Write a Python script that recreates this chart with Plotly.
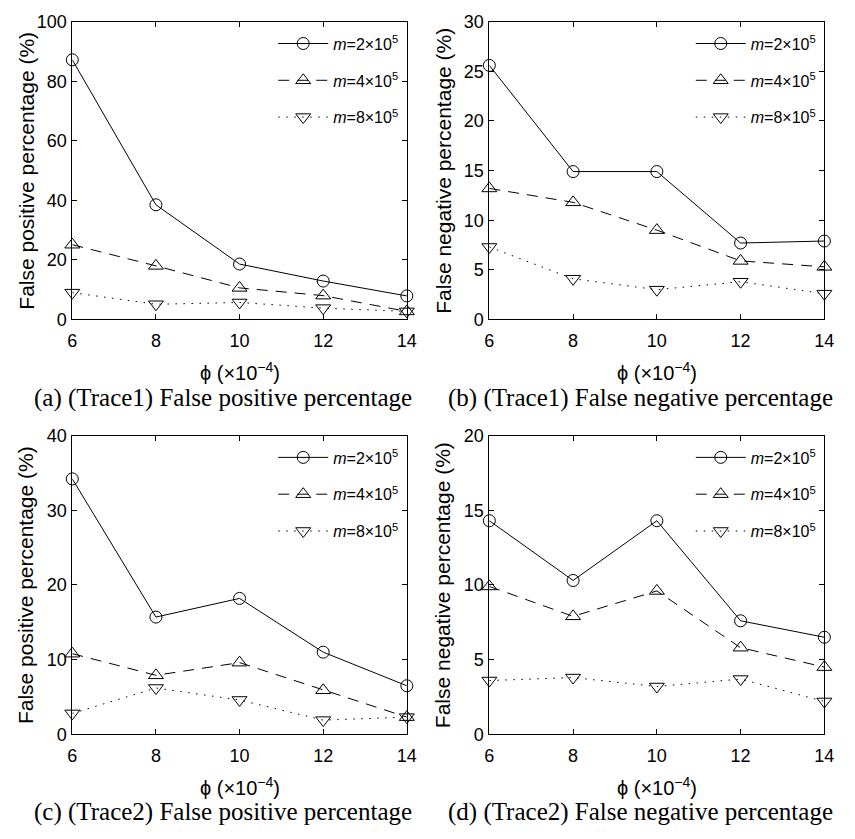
import plotly.graph_objects as go

# phi values (x 10^-4) shared by every panel
phi = [6, 8, 10, 12, 14]
x_ticks = [6, 8, 10, 12, 14]

# Trace1 false positive percentage
t1_fp_m2 = [87.2, 38.5, 18.6, 12.9, 7.9]
t1_fp_m4 = [25.1, 18.0, 10.6, 8.0, 2.7]
t1_fp_m8 = [9.0, 5.1, 5.7, 3.8, 2.7]

# Trace1 false negative percentage
t1_fn_m2 = [25.6, 14.9, 14.9, 7.7, 7.9]
t1_fn_m4 = [13.2, 11.8, 9.0, 5.9, 5.3]
t1_fn_m8 = [7.3, 4.1, 3.0, 3.8, 2.6]

# Trace2 false positive percentage
t2_fp_m2 = [34.2, 15.7, 18.2, 11.0, 6.5]
t2_fp_m4 = [10.8, 7.9, 9.6, 5.9, 2.3]
t2_fp_m8 = [2.8, 6.2, 4.6, 1.9, 2.3]

# Trace2 false negative percentage
t2_fn_m2 = [14.3, 10.3, 14.3, 7.6, 6.5]
t2_fn_m4 = [9.9, 7.9, 9.6, 5.8, 4.5]
t2_fn_m8 = [3.6, 3.8, 3.2, 3.7, 2.2]

series_names = ["<i>m</i>=2×10<sup>5</sup>",
                "<i>m</i>=4×10<sup>5</sup>",
                "<i>m</i>=8×10<sup>5</sup>"]

y_max = [100, 30, 40, 20]
y_step = [20, 5, 10, 5]
y_titles = ["False positive percentage (%)", "False negative percentage (%)",
            "False positive percentage (%)", "False negative percentage (%)"]
captions = ["(a) (Trace1) False positive percentage",
            "(b) (Trace1) False negative percentage",
            "(c) (Trace2) False positive percentage",
            "(d) (Trace2) False negative percentage"]
x_title = "ϕ (×10<sup>−4</sup>)"

panels = [
    [t1_fp_m2, t1_fp_m4, t1_fp_m8],
    [t1_fn_m2, t1_fn_m4, t1_fn_m8],
    [t2_fp_m2, t2_fp_m4, t2_fp_m8],
    [t2_fn_m2, t2_fn_m4, t2_fn_m8],
]

W, H = 855, 839
SANS = "Liberation Sans, Arial, sans-serif"
SERIF = "Liberation Serif, Times New Roman, serif"

# plot-area boxes in pixels: (left, right, top, bottom)
boxes = [(68.5, 409, 12, 317), (493, 834, 12, 317),
         (68.5, 409, 436, 742), (493, 834, 436, 742)]

styles = [
    dict(dash="solid", symbol="circle-open", size=12),
    dict(dash="11px,8px", symbol="triangle-up-open", size=13),
    dict(dash="1.5px,6.5px", symbol="triangle-down-open", size=13),
]

fig = go.Figure()
layout = dict(width=W, height=H, autosize=False,
              margin=dict(l=0, r=0, t=0, b=0),
              paper_bgcolor="white", plot_bgcolor="white",
              showlegend=True, annotations=[])

for p, (series, box) in enumerate(zip(panels, boxes)):
    l, r, t, b = box
    sfx = "" if p == 0 else str(p + 1)
    legend_name = "legend" + sfx
    for k, vals in enumerate(series):
        st = styles[k]
        fig.add_trace(go.Scatter(
            x=phi, y=vals, mode="lines+markers", name=series_names[k],
            xaxis="x" + sfx, yaxis="y" + sfx,
            legend=legend_name, legendgroup=f"p{p}s{k}",
            cliponaxis=False,
            line=dict(color="black", width=1, dash=st["dash"]),
            marker=dict(symbol=st["symbol"], size=st["size"],
                        color="black", line=dict(color="black", width=1)),
        ))
    axis_common = dict(showline=True, mirror="ticks", linecolor="black",
                       linewidth=1, ticks="inside", ticklen=5,
                       tickcolor="black", tickwidth=1, showgrid=False,
                       zeroline=False,
                       tickfont=dict(family=SANS, size=18, color="black"))
    layout["xaxis" + sfx] = dict(
        axis_common, domain=[l / W, r / W], range=[6, 14],
        tickmode="array", tickvals=x_ticks, anchor="y" + sfx,
        ticklabelstandoff=5)
    layout["yaxis" + sfx] = dict(
        axis_common, domain=[1 - b / H, 1 - t / H],
        range=[0, y_max[p]], dtick=y_step[p], tick0=0, anchor="x" + sfx,
        ticklabelstandoff=1)
    layout[legend_name] = dict(
        x=(r - 136) / W, y=1 - (t + 5) / H, xanchor="left", yanchor="top",
        bgcolor="rgba(0,0,0,0)", borderwidth=0, tracegroupgap=13,
        itemwidth=50,
        font=dict(family=SANS, size=16, color="black"))
    cx = (l + r) / 2
    layout["annotations"] += [
        dict(text=y_titles[p], textangle=-90, xref="paper", yref="paper",
             x=(l - 47) / W, y=1 - (t + b) / 2 / H, showarrow=False,
             xanchor="center", yanchor="middle",
             font=dict(family=SANS, size=21, color="black")),
        dict(text=x_title, xref="paper", yref="paper",
             x=cx / W, y=1 - (b + 53) / H, showarrow=False,
             xanchor="center", yanchor="middle",
             font=dict(family=SANS, size=20, color="black")),
        dict(text=captions[p], xref="paper", yref="paper",
             x=(cx - 17) / W, y=1 - (b + 80) / H, showarrow=False,
             xanchor="center", yanchor="middle",
             font=dict(family=SERIF, size=25, color="black")),
    ]

fig.update_layout(**layout)
fig.write_html("out.html")
